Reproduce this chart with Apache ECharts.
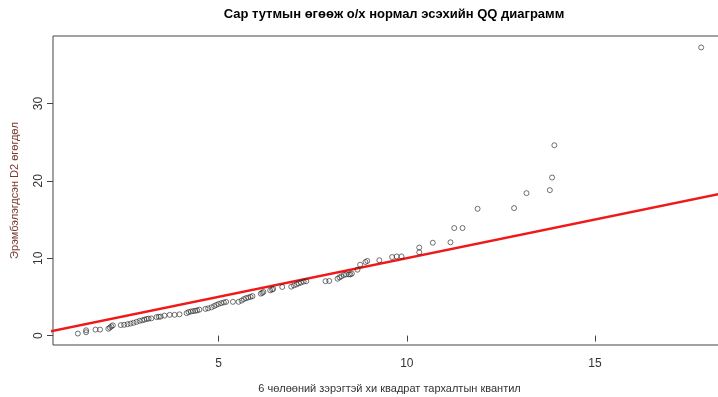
<!DOCTYPE html>
<html>
<head>
<meta charset="utf-8">
<script src="https://cdn.jsdelivr.net/npm/echarts@6/dist/echarts.min.js"></script>
<style>
html,body{margin:0;padding:0;background:#fff;}
#chart{width:718px;height:397px;}
</style>
</head>
<body>
<div id="chart"></div>
<script>
const titleText = 'Сар тутмын өгөөж о/х нормал эсэхийн QQ диаграмм';
const xName = '6 чөлөөний зэрэгтэй хи квадрат тархалтын квантил';
const yName = 'Эрэмбэлэгдсэн D2 өгөгдөл';

const chiQuantiles = [
  1.26,1.48,1.48,1.73,1.85,2.07,2.11,2.15,2.19,2.40,
  2.49,2.58,2.66,2.74,2.82,2.90,2.97,3.03,3.09,3.14,
  3.21,3.35,3.41,3.46,3.56,3.70,3.83,3.96,4.15,4.20,
  4.26,4.32,4.38,4.43,4.49,4.65,4.72,4.81,4.88,4.94,
  5.00,5.07,5.14,5.20,5.38,5.53,5.61,5.67,5.73,5.79,
  5.85,5.90,6.12,6.16,6.19,6.37,6.42,6.45,6.69,6.93,
  7.00,7.07,7.13,7.19,7.26,7.33,7.84,7.94,8.16,8.21,
  8.26,8.33,8.39,8.46,8.50,8.54,8.69,8.76,8.90,8.95,
  9.27,9.61,9.73,9.86,10.33,10.33,10.69,11.16,11.26,11.48,
  11.88,12.85,13.18,13.80,13.86,13.92,17.82
];
const orderedD2 = [
  0.26,0.43,0.68,0.77,0.77,0.88,1.03,1.19,1.32,1.35,
  1.39,1.47,1.55,1.65,1.77,1.90,1.97,2.06,2.15,2.19,
  2.22,2.39,2.43,2.45,2.58,2.68,2.68,2.74,2.90,3.03,
  3.10,3.16,3.20,3.26,3.35,3.45,3.52,3.65,3.81,3.96,
  4.09,4.19,4.28,4.36,4.36,4.36,4.52,4.71,4.84,4.93,
  5.01,5.10,5.42,5.52,5.64,5.85,5.94,6.03,6.28,6.32,
  6.48,6.61,6.75,6.86,6.97,7.03,7.03,7.06,7.35,7.52,
  7.65,7.83,7.91,7.91,7.91,8.00,8.52,9.16,9.51,9.65,
  9.74,10.15,10.23,10.23,10.77,11.38,12.00,12.06,13.90,13.90,
  16.39,16.48,18.41,18.80,20.43,24.61,37.25
];
const refLineX = [0, 20];   // abline(0, 1)
const refLineY = [0, 20];
const xTicks = [5, 10, 15];
const yTicks = [0, 10, 20, 30];

const points = chiQuantiles.map((x, i) => [x, orderedD2[i]]);
const refLine = refLineX.map((x, i) => [x, refLineY[i]]);

const chart = echarts.init(document.getElementById('chart'), null, {renderer: 'canvas'});
const FONT = '"Liberation Sans", Arial, sans-serif';

chart.setOption({
  animation: false,
  backgroundColor: '#ffffff',
  title: {
    text: titleText,
    left: 389, top: 3,
    textAlign: 'center',
    textStyle: {fontFamily: FONT, fontSize: 13, fontWeight: 'bold', color: '#000'}
  },
  grid: {
    left: 53, top: 36, right: -8, bottom: 52,
    containLabel: false,
    outerBoundsMode: 'none',
    show: true, borderColor: '#444', borderWidth: 1, backgroundColor: 'transparent'
  },
  xAxis: {
    type: 'value', min: 0.6, max: 18.48,
    name: xName, nameLocation: 'middle', nameGap: 38,
    nameTextStyle: {fontFamily: FONT, fontSize: 11, color: '#333'},
    axisLine: {show: false},
    splitLine: {show: false},
    axisTick: {show: true, customValues: xTicks, length: 6, lineStyle: {color: '#444'}},
    axisLabel: {customValues: xTicks, margin: 13, fontFamily: FONT, fontSize: 12, color: '#333'}
  },
  yAxis: {
    type: 'value', min: -1.22, max: 38.73,
    name: yName, nameLocation: 'middle', nameGap: 33, nameRotate: 90,
    nameTextStyle: {fontFamily: FONT, fontSize: 11, color: '#7a3a30'},
    axisLine: {show: false},
    splitLine: {show: false},
    axisTick: {show: true, customValues: yTicks, length: 6, lineStyle: {color: '#444'}},
    axisLabel: {customValues: yTicks, rotate: 90, margin: 8, fontFamily: FONT, fontSize: 12, color: '#333'}
  },
  series: [
    {
      type: 'line',
      data: refLine,
      symbol: 'none',
      clip: true,
      lineStyle: {color: '#f01818', width: 2.5},
      z: 1
    },
    {
      type: 'scatter',
      data: points,
      symbol: 'circle',
      symbolSize: 5,
      itemStyle: {color: 'rgba(0,0,0,0)', borderColor: '#222', borderWidth: 0.8},
      z: 2
    }
  ]
});
</script>
</body>
</html>
